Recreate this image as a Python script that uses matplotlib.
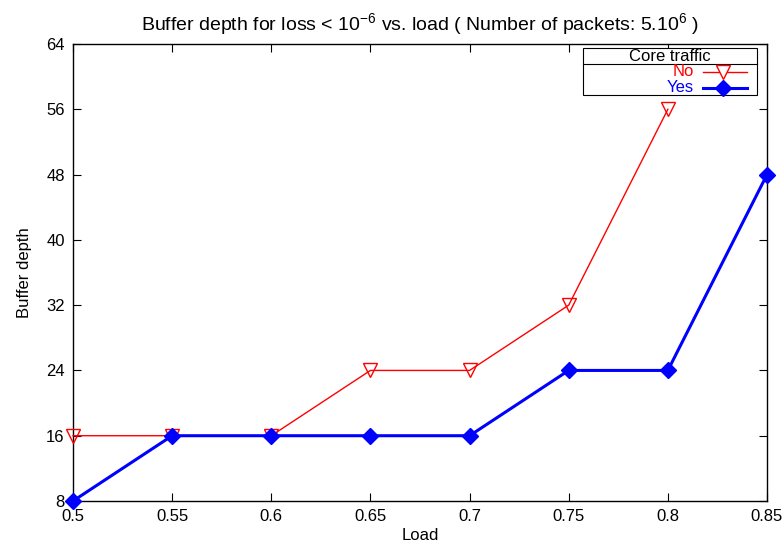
import matplotlib
matplotlib.use("Agg")
import matplotlib.pyplot as plt
from matplotlib.patches import Rectangle
from matplotlib.lines import Line2D

plt.rcParams['font.family'] = ['Liberation Sans', 'DejaVu Sans']
plt.rcParams['mathtext.fontset'] = 'custom'
plt.rcParams['mathtext.rm'] = 'Liberation Sans'
plt.rcParams['mathtext.it'] = 'Liberation Sans'
plt.rcParams['mathtext.default'] = 'regular'

load_no = [0.5, 0.55, 0.6, 0.65, 0.7, 0.75, 0.8]
depth_no = [16, 16, 16, 24, 24, 32, 56]
load_yes = [0.5, 0.55, 0.6, 0.65, 0.7, 0.75, 0.8, 0.85]
depth_yes = [8, 16, 16, 16, 16, 24, 24, 48]
xticks = [0.5, 0.55, 0.6, 0.65, 0.7, 0.75, 0.8, 0.85]
xtick_labels = ['0.5', '0.55', '0.6', '0.65', '0.7', '0.75', '0.8', '0.85']
yticks = [8, 16, 24, 32, 40, 48, 56, 64]

FS = 12

fig = plt.figure(figsize=(7.84, 5.51), dpi=100)
ax = fig.add_axes([73/784, 1-501/551, 694/784, 457/551])

ax.plot(load_no, depth_no, color='red', lw=1.0, marker='v', ms=10,
        mfc='none', mec='red', mew=1.0, clip_on=False, zorder=3)
ax.plot(load_yes, depth_yes, color='blue', lw=2.2, marker='D', ms=8,
        mfc='blue', mec='blue', clip_on=False, zorder=4)

ax.set_xlim(0.5, 0.85)
ax.set_ylim(8, 64)
ax.set_xticks(xticks)
ax.set_xticklabels(xtick_labels)
ax.set_yticks(yticks)
ax.tick_params(direction='in', top=True, right=True, labelsize=FS, length=6, width=0.8)
ax.tick_params(axis='x', pad=6)
ax.tick_params(axis='y', pad=6)
for s in ax.spines.values():
    s.set_linewidth(1.0)

ax.set_xlabel('Load', fontsize=FS, labelpad=3)
ax.set_ylabel('Buffer depth', fontsize=FS, labelpad=10)
ax.set_title(r'Buffer depth for loss < 10$^{-6}$ vs. load ( Number of packets: 5.10$^{6}$ )',
             fontsize=14, pad=10)

# gnuplot-style legend box
T = ax.transAxes
x0, x1 = 0.735, 0.9856
y0, y1 = 0.888, 0.991
ax.add_patch(Rectangle((x0, y0), x1-x0, y1-y0, transform=T, fill=True, fc='white',
                       ec='black', lw=0.8, zorder=5, clip_on=False))
ax.add_line(Line2D([x0, x1], [0.956, 0.956], transform=T, color='black', lw=0.8, zorder=6))
ax.text((x0+x1)/2, 0.973, 'Core traffic', transform=T, ha='center', va='center',
        fontsize=FS, zorder=7)
ax.text(0.895, 0.939, 'No', transform=T, ha='right', va='center', fontsize=FS,
        color='red', zorder=7)
ax.text(0.895, 0.904, 'Yes', transform=T, ha='right', va='center', fontsize=FS,
        color='blue', zorder=7)
ax.add_line(Line2D([0.908, 0.971], [0.939, 0.939], transform=T, color='red', lw=1.0, zorder=7))
ax.add_line(Line2D([0.937], [0.939], transform=T, color='red', marker='v', ms=10,
                   mfc='white', mec='red', zorder=8))
ax.add_line(Line2D([0.908, 0.971], [0.904, 0.904], transform=T, color='blue', lw=2.2, zorder=7))
ax.add_line(Line2D([0.937], [0.904], transform=T, color='blue', marker='D', ms=8,
                   mfc='blue', mec='blue', zorder=8))

fig.savefig('out.png', dpi=100)
